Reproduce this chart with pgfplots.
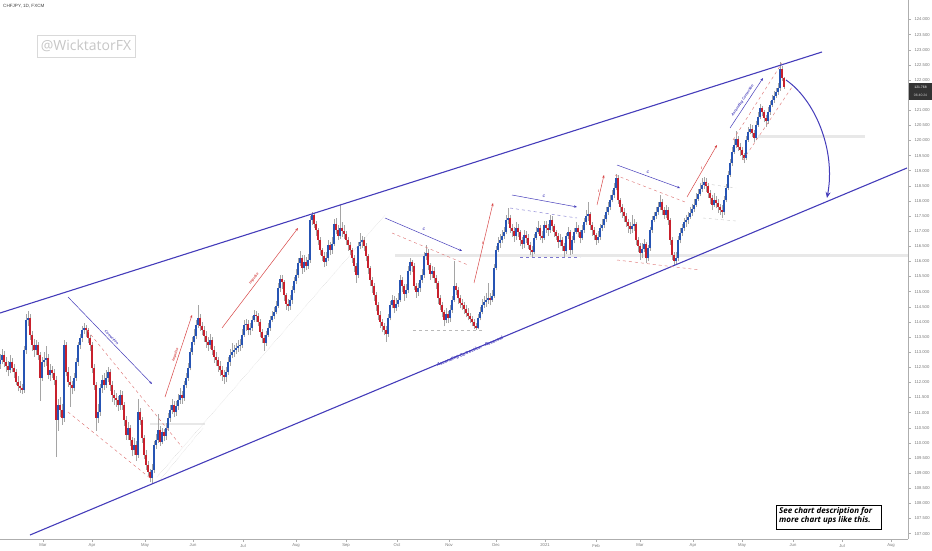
\documentclass[border=0pt]{standalone}
\usepackage{fontspec}
\setmainfont{Liberation Sans}
\newfontfamily\osans{Open Sans}
\usepackage{pgfplots}
\usepackage{pgfplotstable}
\pgfplotsset{compat=1.18}
\usetikzlibrary{arrows.meta}

\definecolor{cBlue}{RGB}{38,84,180}
\definecolor{cRed}{RGB}{200,32,44}
\definecolor{cWick}{RGB}{165,165,165}
\definecolor{chan}{RGB}{68,60,186}
\definecolor{dred}{RGB}{222,120,120}
\definecolor{ared}{RGB}{215,70,70}
\definecolor{band}{RGB}{232,232,232}
\definecolor{tick}{RGB}{120,120,120}

% CHFJPY daily candles, n = bar number (2 px per bar in the reference)
\pgfplotstableread{
n o h l c
0 112.60 112.95 112.45 112.74
1 112.74 113.10 112.60 112.91
2 112.91 113.05 112.50 112.67
3 112.67 112.85 112.35 112.54
4 112.54 112.70 112.20 112.41
5 112.41 112.90 112.30 112.67
6 112.67 112.80 112.35 112.48
7 112.48 112.62 112.15 112.35
8 112.35 112.45 111.90 112.02
9 112.02 112.20 111.70 111.88
10 111.88 112.05 111.65 111.82
11 111.82 111.95 111.60 111.75
12 111.75 113.20 111.65 113.07
13 113.07 114.25 112.95 114.06
14 114.06 114.35 113.85 114.13
15 114.13 114.25 113.40 113.57
16 113.57 113.70 113.05 113.24
17 113.24 113.45 112.85 113.07
18 113.07 113.40 112.90 113.24
19 113.24 113.35 112.75 112.91
20 112.91 113.00 111.40 112.15
21 112.15 112.85 112.05 112.67
22 112.67 113.00 112.50 112.74
23 112.74 113.20 112.55 112.81
24 112.81 112.95 112.10 112.25
25 112.25 112.60 112.05 112.40
26 112.40 112.55 112.15 112.31
27 112.31 112.45 111.90 112.08
28 112.08 112.20 109.53 110.76
29 110.76 111.45 110.40 111.25
30 111.25 111.50 110.85 111.09
31 111.09 111.30 110.60 110.82
32 110.82 113.40 110.70 113.24
33 113.24 113.35 112.20 112.35
34 112.35 112.50 111.85 112.02
35 112.02 112.20 111.20 111.91
36 111.91 112.05 111.60 111.81
37 111.81 112.30 111.70 112.15
38 112.15 112.80 112.05 112.67
39 112.67 113.35 112.55 113.24
40 113.24 113.60 113.10 113.47
41 113.47 113.85 113.35 113.73
42 113.73 113.95 113.60 113.80
43 113.80 113.90 113.50 113.73
44 113.73 113.80 113.30 113.47
45 113.47 113.55 113.05 113.24
46 113.24 113.35 112.30 112.48
47 112.48 112.60 111.75 111.91
48 111.91 112.00 110.40 110.82
49 110.82 111.30 110.65 111.02
50 111.02 111.95 110.90 111.81
51 111.81 112.25 111.65 112.08
52 112.08 112.30 111.75 111.91
53 111.91 112.40 111.80 112.15
54 112.15 112.50 112.00 112.35
55 112.35 112.45 111.70 111.91
56 111.91 112.05 111.35 111.58
57 111.58 111.75 111.25 111.48
58 111.48 111.65 111.20 111.42
59 111.42 111.55 111.05 111.25
60 111.25 111.75 111.10 111.58
61 111.58 111.70 111.10 111.25
62 111.25 111.35 110.55 110.76
63 110.76 110.90 110.10 110.26
64 110.26 110.70 110.10 110.49
65 110.49 110.60 109.90 110.09
66 110.09 110.20 109.55 109.76
67 109.76 110.15 109.60 109.93
68 109.93 110.05 109.40 109.60
69 109.60 111.45 109.50 111.02
70 111.02 111.15 110.60 110.76
71 110.76 110.85 110.00 110.16
72 110.16 110.25 109.45 109.60
73 109.60 109.75 109.10 109.27
74 109.27 109.40 108.90 109.04
75 109.04 109.15 108.70 108.84
76 108.84 109.30 108.65 109.10
77 109.10 110.05 109.00 109.93
78 109.93 110.30 109.80 110.09
79 110.09 110.95 110.00 110.43
80 110.43 110.55 109.90 110.03
81 110.03 110.50 109.95 110.36
82 110.36 110.45 110.05 110.23
83 110.23 110.65 110.10 110.49
84 110.49 111.00 110.40 110.82
85 110.82 111.25 110.70 111.09
86 111.09 111.45 110.95 111.25
87 111.25 111.40 110.85 111.02
88 111.02 111.40 110.90 111.22
89 111.22 111.60 111.10 111.42
90 111.42 111.80 111.30 111.58
91 111.58 111.70 111.30 111.48
92 111.48 112.05 111.40 111.91
93 111.91 112.30 111.80 112.15
94 112.15 112.65 112.05 112.48
95 112.48 113.15 112.40 113.00
96 113.00 113.50 112.90 113.34
97 113.34 113.75 113.25 113.53
98 113.53 114.05 113.45 113.90
99 113.90 114.56 113.80 114.13
100 114.13 114.25 113.70 113.87
101 113.87 114.00 113.55 113.73
102 113.73 113.85 113.35 113.53
103 113.53 113.70 113.15 113.34
104 113.34 113.50 113.05 113.24
105 113.24 113.60 113.10 113.40
106 113.40 113.50 112.90 113.07
107 113.07 113.20 112.65 112.84
108 112.84 113.00 112.55 112.74
109 112.74 112.85 112.35 112.54
110 112.54 112.70 112.20 112.41
111 112.41 112.55 112.05 112.25
112 112.25 112.40 111.95 112.18
113 112.18 112.50 112.00 112.35
114 112.35 112.85 112.25 112.67
115 112.67 113.10 112.55 112.91
116 112.91 113.30 112.80 113.00
117 113.00 113.25 112.85 113.07
118 113.07 113.30 112.95 113.14
119 113.14 113.40 113.00 113.20
120 113.20 113.45 113.05 113.24
121 113.24 113.75 113.15 113.57
122 113.57 114.05 113.50 113.90
123 113.90 114.10 113.70 113.93
124 113.93 114.05 113.55 113.73
125 113.73 113.95 113.55 113.80
126 113.80 114.20 113.70 114.06
127 114.06 114.40 114.00 114.23
128 114.23 114.35 114.00 114.20
129 114.20 114.30 113.85 114.00
130 114.00 114.10 113.50 113.67
131 113.67 113.75 113.30 113.47
132 113.47 113.55 113.05 113.30
133 113.30 113.70 113.20 113.57
134 113.57 113.95 113.50 113.80
135 113.80 114.20 113.70 114.06
136 114.06 114.35 114.00 114.20
137 114.20 114.50 114.10 114.33
138 114.33 114.70 114.25 114.53
139 114.53 115.30 114.45 115.12
140 115.12 115.55 115.00 115.42
141 115.42 115.55 115.10 115.32
142 115.32 115.40 114.70 114.89
143 114.89 114.95 114.40 114.59
144 114.59 114.75 114.35 114.53
145 114.53 114.90 114.40 114.72
146 114.72 115.20 114.60 115.06
147 115.06 115.50 114.95 115.35
148 115.35 115.75 115.25 115.55
149 115.55 116.10 115.45 115.95
150 115.95 116.35 115.85 116.11
151 116.11 116.20 115.60 115.78
152 115.78 116.20 115.65 115.98
153 115.98 116.15 115.70 115.85
154 115.85 116.25 115.75 116.05
155 116.05 117.50 115.95 117.37
156 117.37 117.62 117.20 117.54
157 117.54 117.60 117.10 117.24
158 117.24 117.35 116.85 117.04
159 117.04 117.10 116.55 116.71
160 116.71 116.80 116.20 116.38
161 116.38 116.45 116.00 116.18
162 116.18 116.30 115.80 115.98
163 115.98 116.30 115.85 116.11
164 116.11 116.70 116.00 116.54
165 116.54 116.65 116.20 116.38
166 116.38 116.80 116.25 116.58
167 116.58 117.40 116.50 117.24
168 117.24 117.45 116.90 117.04
169 117.04 117.20 116.70 116.84
170 116.84 117.87 116.75 117.10
171 117.10 117.30 116.80 117.01
172 117.01 117.20 116.75 116.91
173 116.91 117.00 116.55 116.71
174 116.71 116.80 116.35 116.54
175 116.54 116.65 116.20 116.38
176 116.38 116.45 115.95 116.11
177 116.11 116.20 115.65 115.85
178 115.85 115.95 115.30 115.55
179 115.55 116.65 115.45 116.51
180 116.51 116.95 116.40 116.64
181 116.64 116.85 116.45 116.71
182 116.71 116.80 116.35 116.51
183 116.51 116.60 116.00 116.18
184 116.18 116.25 115.60 115.78
185 115.78 115.85 115.20 115.39
186 115.39 115.50 114.95 115.19
187 115.19 115.30 114.70 114.89
188 114.89 115.00 114.35 114.56
189 114.56 114.65 114.05 114.23
190 114.23 114.35 113.80 113.99
191 113.99 114.10 113.65 113.87
192 113.87 113.95 113.55 113.73
193 113.73 113.85 113.35 113.60
194 113.60 114.25 113.50 114.13
195 114.13 114.70 114.05 114.56
196 114.56 114.90 114.45 114.72
197 114.72 114.85 114.30 114.46
198 114.46 114.80 114.35 114.59
199 114.59 114.95 114.50 114.72
200 114.72 115.55 114.65 115.39
201 115.39 115.50 115.00 115.19
202 115.19 115.25 114.70 114.92
203 114.92 115.25 114.80 115.06
204 115.06 115.85 114.95 115.68
205 115.68 116.10 115.55 115.98
206 115.98 116.05 115.65 115.85
207 115.85 115.95 115.05 115.19
208 115.19 115.30 114.80 114.99
209 114.99 115.30 114.85 115.12
210 115.12 115.55 115.00 115.39
211 115.39 115.75 115.30 115.55
212 115.55 116.30 115.45 116.18
213 116.18 116.55 116.05 116.28
214 116.28 116.40 115.70 115.88
215 115.88 115.95 115.40 115.58
216 115.58 115.85 115.45 115.68
217 115.68 115.80 115.30 115.45
218 115.45 115.55 115.10 115.29
219 115.29 115.35 114.60 114.79
220 114.79 114.90 114.40 114.56
221 114.56 114.65 114.15 114.33
222 114.33 114.40 113.85 114.06
223 114.06 114.45 113.95 114.26
224 114.26 114.35 113.95 114.13
225 114.13 114.55 114.00 114.39
226 114.39 114.85 114.30 114.72
227 114.72 116.00 114.65 115.19
228 115.19 115.30 114.90 115.06
229 115.06 115.15 114.60 114.79
230 114.79 114.90 114.45 114.63
231 114.63 114.75 114.40 114.56
232 114.56 114.65 114.25 114.43
233 114.43 114.55 114.15 114.30
234 114.30 114.45 114.05 114.20
235 114.20 114.30 113.95 114.10
236 114.10 114.20 113.85 113.99
237 113.99 114.10 113.75 113.87
238 113.87 113.95 113.73 113.80
239 113.80 114.25 113.75 114.13
240 114.13 114.50 114.05 114.33
241 114.33 114.75 114.25 114.56
242 114.56 114.85 114.45 114.66
243 114.66 114.95 114.50 114.72
244 114.72 115.30 114.60 114.79
245 114.79 114.95 114.55 114.72
246 114.72 115.05 114.65 114.86
247 114.86 115.90 114.80 115.78
248 115.78 116.50 115.70 116.38
249 116.38 116.80 116.30 116.61
250 116.61 116.90 116.45 116.71
251 116.71 117.05 116.60 116.84
252 116.84 117.15 116.75 116.97
253 116.97 117.55 116.90 117.37
254 117.37 117.75 117.25 117.44
255 117.44 117.55 116.95 117.10
256 117.10 117.25 116.80 117.01
257 117.01 117.15 116.65 116.84
258 116.84 117.30 116.70 117.10
259 117.10 117.25 116.80 116.97
260 116.97 117.05 116.50 116.71
261 116.71 116.80 116.40 116.58
262 116.58 117.05 116.45 116.87
263 116.87 117.00 116.60 116.77
264 116.77 116.90 116.40 116.54
265 116.54 116.65 116.20 116.38
266 116.38 116.50 116.15 116.31
267 116.31 116.90 116.25 116.77
268 116.77 117.15 116.70 116.97
269 116.97 117.35 116.90 117.10
270 117.10 117.20 116.70 116.84
271 116.84 117.00 116.60 116.77
272 116.77 117.35 116.70 117.21
273 117.21 117.35 116.95 117.10
274 117.10 117.25 116.85 117.04
275 117.04 117.55 116.95 117.37
276 117.37 117.50 117.00 117.17
277 117.17 117.25 116.80 116.97
278 116.97 117.05 116.70 116.84
279 116.84 116.95 116.45 116.64
280 116.64 116.90 116.50 116.71
281 116.71 116.80 116.35 116.51
282 116.51 116.60 116.15 116.35
283 116.35 116.95 116.25 116.84
284 116.84 117.15 116.75 116.97
285 116.97 117.05 116.20 116.38
286 116.38 116.85 116.25 116.71
287 116.71 117.10 116.60 116.97
288 116.97 117.30 116.90 117.10
289 117.10 117.20 116.80 116.97
290 116.97 117.05 116.60 116.77
291 116.77 117.20 116.70 117.04
292 117.04 117.45 116.95 117.30
293 117.30 117.70 117.20 117.50
294 117.50 117.95 117.35 117.57
295 117.57 117.65 117.05 117.21
296 117.21 117.30 116.85 117.04
297 117.04 117.15 116.70 116.87
298 116.87 116.95 116.55 116.71
299 116.71 117.00 116.60 116.81
300 116.81 117.25 116.70 117.10
301 117.10 117.40 117.00 117.21
302 117.21 117.55 117.10 117.40
303 117.40 117.80 117.30 117.64
304 117.64 117.95 117.55 117.80
305 117.80 118.20 117.70 118.03
306 118.03 118.35 117.95 118.20
307 118.20 118.60 118.10 118.43
308 118.43 118.90 118.35 118.76
309 118.76 118.85 117.90 118.03
310 118.03 118.10 117.60 117.80
311 117.80 117.90 117.45 117.64
312 117.64 117.75 117.30 117.50
313 117.50 117.60 117.15 117.30
314 117.30 117.40 116.95 117.17
315 117.17 117.30 116.90 117.07
316 117.07 117.55 116.95 117.17
317 117.17 117.40 117.00 117.24
318 117.24 117.30 116.55 116.71
319 116.71 116.80 116.30 116.51
320 116.51 116.60 116.05 116.28
321 116.28 116.60 116.10 116.41
322 116.41 116.75 116.30 116.58
323 116.58 116.65 115.95 116.11
324 116.11 116.55 116.00 116.44
325 116.44 117.15 116.35 117.04
326 117.04 117.50 116.95 117.37
327 117.37 117.65 117.30 117.50
328 117.50 117.80 117.40 117.64
329 117.64 117.95 117.55 117.80
330 117.80 118.20 117.70 117.97
331 117.97 118.05 117.55 117.70
332 117.70 117.80 117.40 117.54
333 117.54 117.85 117.45 117.70
334 117.70 117.80 117.20 117.37
335 117.37 117.45 116.55 116.71
336 116.71 116.80 116.05 116.21
337 116.21 116.30 115.85 116.01
338 116.01 116.30 115.90 116.11
339 116.11 116.85 116.00 116.71
340 116.71 117.10 116.60 116.94
341 116.94 117.25 116.85 117.10
342 117.10 117.45 117.00 117.30
343 117.30 117.55 117.15 117.37
344 117.37 117.65 117.25 117.47
345 117.47 117.80 117.40 117.60
346 117.60 117.90 117.50 117.73
347 117.73 118.05 117.65 117.87
348 117.87 118.25 117.80 118.06
349 118.06 118.40 118.00 118.23
350 118.23 118.60 118.15 118.40
351 118.40 118.75 118.30 118.53
352 118.53 118.80 118.40 118.63
353 118.63 118.75 118.30 118.50
354 118.50 118.60 118.10 118.26
355 118.26 118.35 117.90 118.10
356 118.10 118.20 117.70 117.87
357 117.87 118.25 117.80 118.03
358 118.03 118.15 117.75 117.93
359 117.93 118.05 117.60 117.80
360 117.80 117.90 117.55 117.70
361 117.70 117.85 117.45 117.64
362 117.64 118.15 117.55 118.03
363 118.03 118.55 117.95 118.43
364 118.43 119.00 118.35 118.86
365 118.86 119.40 118.80 119.25
366 119.25 119.80 119.15 119.62
367 119.62 120.05 119.55 119.85
368 119.85 120.30 119.75 120.05
369 120.05 120.15 119.65 119.78
370 119.78 119.90 119.50 119.69
371 119.69 119.80 119.35 119.52
372 119.52 119.60 119.25 119.42
373 119.42 120.15 119.35 120.02
374 120.02 120.45 119.95 120.28
375 120.28 120.55 120.20 120.38
376 120.38 120.50 120.10 120.25
377 120.25 120.35 119.95 120.08
378 120.08 120.65 120.00 120.51
379 120.51 120.95 120.45 120.78
380 120.78 121.20 120.70 121.07
381 121.07 121.15 120.80 120.94
382 120.94 121.00 120.60 120.74
383 120.74 120.85 120.45 120.64
384 120.64 121.10 120.55 120.94
385 120.94 121.30 120.85 121.17
386 121.17 121.50 121.10 121.34
387 121.34 121.65 121.25 121.47
388 121.47 121.75 121.40 121.60
389 121.60 121.90 121.50 121.73
390 121.73 122.58 121.65 122.35
391 122.35 122.45 121.95 122.07
392 122.07 122.10 121.70 121.77
}\candles

\begin{document}
\begin{tikzpicture}
\path[use as bounding box] (0,-11pt) rectangle (932pt,539pt);

% grey zones behind the candles (drawn in pixel space: x right, y down)
\begin{scope}[shift={(0pt,539pt)}, x=1pt, y=-1pt]
  \draw[band, line width=3pt] (395,255) -- (908,255);
  \draw[band, line width=3pt] (758,137) -- (865,137);
  \draw[band, line width=2.5pt] (150,424) -- (205,424);
\end{scope}

\begin{axis}[
    at={(0,0)}, anchor=south west,
    scale only axis, width=908pt, height=539pt,
    xmin=0, xmax=454, ymin=106.82, ymax=124.645,
    axis x line*=bottom, axis y line*=right,
    axis line style={draw=tick!60, line width=0.5pt},
    tick style={draw=tick!60, line width=0.4pt},
    major tick length=2.5pt, tick align=outside,
    ytick={107,107.5,...,124},
    xtick={21.5,46,72.5,96.5,121.5,148,173,198.5,224.5,248,272.5,298,320,346.5,371,396.5,421,445.5},
    xticklabels={Mar,Apr,May,Jun,Jul,Aug,Sep,Oct,Nov,Dec,2021,Feb,Mar,Apr,May,Jun,Jul,Aug},
    x tick label style={font=\fontsize{4.2}{5}\selectfont, text=tick, yshift=1pt},
    y tick label style={font=\fontsize{4.2}{5}\selectfont, text=tick, xshift=0.5pt},
    yticklabel={\pgfmathprintnumber[fixed,fixed zerofill,precision=3,assume math mode=true]{\tick}},
    colormap={updown}{color(0)=(cRed) color(1)=(cBlue)},
    point meta min=-0.001, point meta max=0.001,
    clip=true,
]
% wicks: from low, up by high-low
\addplot[draw=cWick, line width=0.5pt, -,
    quiver={u=0, v=\thisrow{h}-\thisrow{l}}] table[x=n, y=l] {\candles};
% bodies: from open, by close-open, coloured by direction
\addplot[line width=1.4pt, -,
    quiver={u=0, v=\thisrow{c}-\thisrow{o}, colored=mapped color},
    point meta={\thisrow{c}-\thisrow{o}}] table[x=n, y=o] {\candles};
\end{axis}

% drawings on the chart, in pixel space
\begin{scope}[shift={(0pt,539pt)}, x=1pt, y=-1pt,
    lab/.style={font=\fontsize{3.6}{4}\selectfont\bfseries\itshape, inner sep=0.8pt},
    arr/.style={line width=0.5pt, -{Stealth[length=3pt,width=2.4pt]}}]
  % channel
  \draw[chan, line width=1.1pt] (0,313) -- (822,52);
  \draw[chan, line width=1.1pt] (30,535) -- (907,168);
  \node[lab, chan, font=\fontsize{4.6}{5}\selectfont\bfseries\itshape, rotate=22.7]
     at (470,352) {Ascending Correction - Reversal};

  % guide lines
  \draw[dred, dashed, line width=0.45pt] (87,330) -- (182,447);
  \draw[dred, dashed, line width=0.45pt] (68,412) -- (150,478);
  \draw[gray!45, densely dotted, line width=0.4pt] (157,477) -- (385,215);
  \draw[gray!45, densely dotted, line width=0.4pt] (160,480) -- (203,428);
  \draw[dred, dashed, line width=0.45pt] (392,233) -- (468,265);
  \draw[gray!55, dashed, line width=0.45pt] (413,330) -- (483,330);
  \draw[chan!70, dashed, line width=0.45pt] (510,208) -- (577,218);
  \draw[chan!70, dashed, line width=0.45pt] (520,257) -- (580,257);
  \draw[dred, dashed, line width=0.45pt] (615,175) -- (685,202);
  \draw[dred, dashed, line width=0.45pt] (617,260) -- (700,270);
  \draw[gray!45, dashed, line width=0.4pt] (700,183) -- (736,188);
  \draw[gray!45, dashed, line width=0.4pt] (703,218) -- (736,221);
  \draw[dred, dashed, line width=0.45pt] (733,140) -- (782,63);
  \draw[dred, dashed, line width=0.45pt] (743,160) -- (792,87);

  % corrections (blue) and impulses (red)
  \draw[arr, chan] (68,297) -- (152,384);
  \node[lab, chan, rotate=-46, anchor=south] at (110,339) {Correction};
  \draw[arr, ared] (165,397) -- (192,315);
  \node[lab, ared, rotate=72, anchor=south] at (178,356) {Impulse};
  \draw[arr, ared] (222,328) -- (298,228);
  \node[lab, ared, rotate=53, anchor=south, yshift=1pt] at (257,281) {Impulse};
  \draw[arr, chan] (385,218) -- (462,251);
  \node[lab, chan, anchor=south] at (424,232) {C};
  \draw[arr, ared] (474,283) -- (493,203);
  \node[lab, ared, anchor=east] at (484,243) {I};
  \draw[arr, chan] (512,195) -- (577,207);
  \node[lab, chan, anchor=south] at (544,199) {C};
  \draw[arr, ared] (597,205) -- (604,175);
  \node[lab, ared, anchor=east] at (600,191) {I};
  \draw[arr, chan] (617,165) -- (680,188);
  \node[lab, chan, anchor=south] at (648,175) {C};
  \draw[arr, ared] (687,197) -- (717,145);
  \node[lab, ared, anchor=south east] at (703,171) {I};
  \draw[arr, chan] (730,128) -- (763,78);
  \node[lab, chan, rotate=56.6, anchor=south] at (745,102) {Ascending Correction};

  % projected move
  \draw[chan, line width=1pt, -{Stealth[length=6pt,width=5pt]}]
     (786,80) .. controls (815,100) and (836,150) .. (827,198);

  % header and watermark
  \node[anchor=west, font=\fontsize{4.6}{5}\selectfont, text=black!75, inner sep=0pt] at (3,6) {CHFJPY, 1D, FXCM};
  \draw[gray!30, line width=0.8pt] (37,35) rectangle (135,57);
  \node[font=\osans\fontsize{14}{16}\selectfont, text=gray!45, inner sep=0pt] at (86,46) {@WicktatorFX};

  % note box
  \draw[black, line width=0.8pt, fill=white] (776,505) rectangle (881,529);
  \node[anchor=north west, align=left, inner sep=0pt,
        font=\osans\fontsize{8}{9}\selectfont\bfseries\itshape] at (779,507)
     {See chart description for\\more chart ups like this.};

  % last price tag
  \fill[black!80] (909,83) rectangle (932,100);
  \node[font=\fontsize{3.4}{4}\selectfont, text=white, inner sep=0pt] at (920.5,87.5) {121.768};
  \node[font=\fontsize{3.4}{4}\selectfont, text=white!80!black, inner sep=0pt] at (920.5,95.5) {06:40:24};
\end{scope}
\end{tikzpicture}
\end{document}
